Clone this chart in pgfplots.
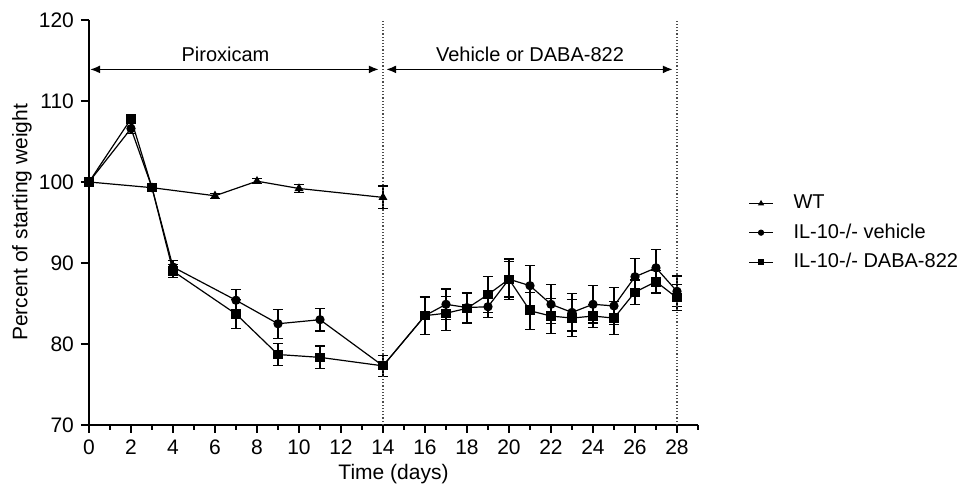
\documentclass[border=0pt]{standalone}
\usepackage{pgfplots}
\pgfplotsset{compat=1.18}
\usepackage{fontspec}
\setmainfont{Liberation Sans}
\usetikzlibrary{arrows.meta}
\begin{document}
\begin{tikzpicture}
\path (-44.5pt,-32pt) rectangle (443.5pt,212.5pt);
\begin{axis}[
  at={(0pt,0pt)}, anchor=south west,
  scale only axis, width=304.5pt, height=202.5pt,
  xmin=0, xmax=29, ymin=70, ymax=120,
  axis lines=left, axis line style={-, line width=0.7pt},
  xtick={0,2,...,28}, minor xtick={1,3,...,29},
  ytick={70,80,...,120},
  tick align=outside, major tick length=4pt, minor tick length=2.5pt,
  tick style={black, line width=0.7pt},
  /pgf/number format/assume math mode=true,
  ticklabel style={font=\fontsize{10.5}{12}\selectfont},
  label style={font=\fontsize{10.5}{12}\selectfont},
  xlabel={Time (days)}, ylabel={Percent of starting weight},
  xlabel style={at={(axis description cs:0.5,-0.12)}, anchor=center},
  ylabel style={at={(axis description cs:-0.11,0.5)}, anchor=center},
  clip=false,
  legend style={at={(axis description cs:1.083,0.474)}, anchor=west, draw=none,
    font=\fontsize{10}{12}\selectfont, row sep=2pt, cells={anchor=west},
    inner sep=0pt, outer sep=0pt,
    /tikz/every odd column/.append style={column sep=8pt}},
  legend image code/.code={\draw[mark repeat=2,mark phase=2,#1,mark size=1.3pt,line width=0.5pt] plot coordinates {(0pt,0pt)(6pt,0pt)(12pt,0pt)};},
  every axis plot/.append style={black, line width=0.6pt},
  error bars/y dir=both, error bars/y explicit,
  error bars/error mark options={rotate=90, mark size=2.5pt, line width=0.6pt},
  error bars/error bar style={line width=0.6pt},
]
\addplot[mark=triangle*, mark size=2pt] table[x=x,y=y,y error=e] {
x y e
0 100 0
3 99.3 0.3
6 98.3 0.3
8 100.1 0.3
10 99.2 0.5
14 98.1 1.4
};
\addlegendentry{WT}
\addplot[mark=*, mark size=2pt] table[x=x,y=y,y error=e] {
x y e
0 100 0
2 106.6 0.6
3 99.3 0.3
4 89.5 0.8
7 85.4 1.3
9 82.5 1.8
11 83.0 1.4
14 77.3 1.3
16 83.5 2.3
17 84.9 1.9
18 84.5 1.8
19 84.6 1.3
20 88.0 2.2
21 87.2 2.5
22 84.9 2.4
23 83.9 2.3
24 84.9 2.3
25 84.7 2.3
26 88.3 2.3
27 89.4 2.3
28 86.5 1.9
};
\addlegendentry{IL-10-/- vehicle}
\addplot[mark=square*, mark size=2pt] table[x=x,y=y,y error=e] {
x y e
0 100 0
2 107.8 0.4
3 99.3 0.3
4 89.0 0.8
7 83.7 1.8
9 78.7 1.4
11 78.35 1.4
14 77.3 1.3
16 83.5 2.3
17 83.8 2.1
18 84.4 1.9
19 86.1 2.2
20 88.0 2.5
21 84.1 2.3
22 83.45 2.2
23 83.2 2.3
24 83.45 1.4
25 83.2 2.0
26 86.4 1.5
27 87.7 1.4
28 85.7 1.6
};
\addlegendentry{IL-10-/- DABA-822}
\draw[densely dotted, line width=0.6pt, black!70] (axis cs:14,70) -- (axis cs:14,120);
\draw[densely dotted, line width=0.6pt, black!70] (axis cs:28,70) -- (axis cs:28,120);
\draw[{Latex[length=5pt,width=4pt]}-{Latex[length=5pt,width=4pt]}, line width=0.8pt] (axis cs:0.05,113.9) -- (axis cs:13.8,113.9);
\draw[{Latex[length=5pt,width=4pt]}-{Latex[length=5pt,width=4pt]}, line width=0.8pt] (axis cs:14.15,113.9) -- (axis cs:27.8,113.9);
\node[font=\fontsize{10}{12}\selectfont] at (axis cs:6.5,115.7) {Piroxicam};
\node[font=\fontsize{10}{12}\selectfont] at (axis cs:21,115.8) {Vehicle or DABA-822};
\end{axis}
\end{tikzpicture}
\end{document}
